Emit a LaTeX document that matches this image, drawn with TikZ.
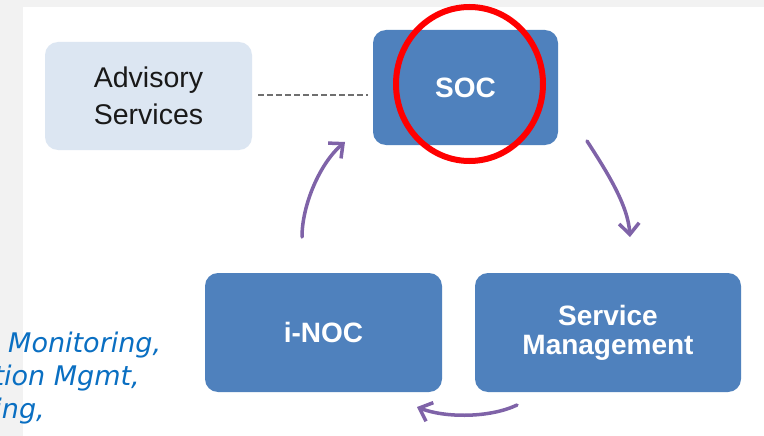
\documentclass[tikz,border=0pt]{standalone}
\usepackage{fontspec}
\setmainfont{Liberation Sans}
\newfontfamily\vfont{DejaVu Sans}
\usetikzlibrary{shapes.geometric,arrows.meta}
\definecolor{boxblue}{HTML}{4F81BD}
\definecolor{lightbox}{HTML}{DCE6F2}
\definecolor{arrowpurple}{HTML}{7F63A8}
\definecolor{textblue}{HTML}{0A6FC2}
\definecolor{pagegrey}{HTML}{F2F2F2}
\definecolor{dashgrey}{HTML}{6F6F6F}
\tikzset{
  bluebox/.style={fill=boxblue, rounded corners=13pt, inner sep=0pt, text=white,
    font=\fontsize{28}{30}\selectfont\bfseries, align=center},
  lightboxstyle/.style={fill=lightbox, rounded corners=13pt, inner sep=0pt, text=black!90,
    font=\fontsize{28.5}{37}\selectfont, align=center},
  cyclearrow/.style={draw=arrowpurple, line width=3.5pt, line cap=round,
    -{Straight Barb[length=11pt,width=20pt,line width=3.5pt]}},
  sidetext/.style={text=textblue, font=\vfont\itshape\fontsize{27}{30}\selectfont, inner sep=0pt}
}
\begin{document}
\begin{tikzpicture}[x=1pt,y=-1pt]
\useasboundingbox (0,0) rectangle (764,436);
\clip (0,0) rectangle (764,436);
\fill[pagegrey] (0,0) rectangle (764,436);
\fill[white] (23,7) rectangle (764,436);
% boxes
\node[lightboxstyle, minimum width=207pt, minimum height=108pt] (adv) at (148.5,96) {Advisory\\Services};
\node[bluebox, minimum width=185pt, minimum height=115pt] (soc) at (465.5,87.5) {SOC};
\node[bluebox, minimum width=237pt, minimum height=119pt] (inoc) at (323.5,332.5) {i-NOC};
\node[bluebox, minimum width=266pt, minimum height=119pt] (svc) at (608,332.5) {Service\\[-1pt]Management};
% dashed link
\draw[dashgrey, line width=2.2pt, dash pattern=on 6pt off 3pt, shorten <=6pt, shorten >=5pt]
  (adv.east |- 0,95) coordinate (d1) -- (soc.west |- 0,95) coordinate (d2);
% highlight ellipse
\node[draw=red, line width=6pt, ellipse, minimum width=147pt, minimum height=154pt, inner sep=0pt] (hl) at (469.5,84) {};
% cycle arrows
\coordinate (a1s) at (587,141);
\coordinate (a1e) at (630,237);
\coordinate (a2s) at (517,405);
\coordinate (a2e) at (417,407);
\coordinate (a3s) at (302,237);
\coordinate (a3e) at (345,142);
\draw[cyclearrow] (a1s) .. controls (607,172) and (628,205) .. (a1e);
\draw[cyclearrow] (a2s) .. controls (490,418) and (445,418) .. (a2e);
\draw[cyclearrow] (a3s) .. controls (302,205) and (320,163) .. (a3e);
% side text (clipped as in the reference)
\node[sidetext, anchor=base west] (t1) at (8,352) {Monitoring,};
\node[sidetext, anchor=base east] (t2) at (140,385) {tion Mgmt,};
\node[sidetext, anchor=base east] (t3) at (45,418) {ing,};
\end{tikzpicture}
\end{document}
